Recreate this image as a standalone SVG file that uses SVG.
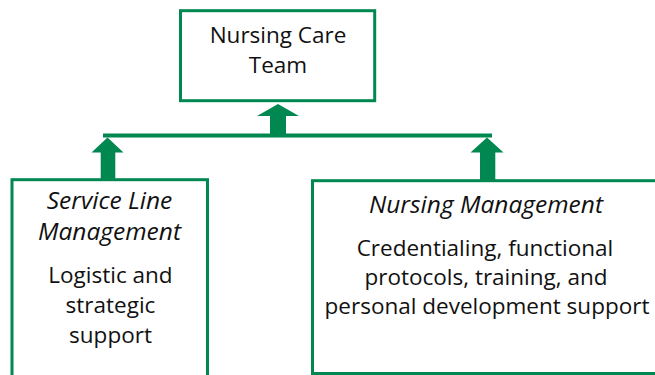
<svg xmlns="http://www.w3.org/2000/svg" width="655" height="375" viewBox="0 0 655 375">
<style>
.box{fill:#fff;stroke:#008850;stroke-width:3}
.g{fill:#008850}
.t{font-family:"Open Sans","Noto Sans",sans-serif;font-size:22.5px;fill:#111;text-anchor:middle}
.i{font-style:italic;font-size:24.5px}
</style>
<rect width="655" height="375" fill="#fff"/>
<g id="connectors">
<polygon class="g" points="278,104 299,116 286,116 286,134 270,134 270,116 257,116"/>
<rect class="g" x="103" y="133.5" width="389" height="4"/>
<polygon class="g" points="107.5,137.5 123.5,152.5 115.3,152.5 115.3,179 100.7,179 100.7,152.5 91.5,152.5"/>
<polygon class="g" points="487,137.5 503.5,152.5 495.3,152.5 495.3,180 480,180 480,152.5 470.5,152.5"/>
</g>
<g id="top">
<rect class="box" x="180.5" y="10.7" width="194.2" height="90"/>
<text class="t" x="278" y="43">Nursing Care</text>
<text class="t" x="278" y="73">Team</text>
</g>
<g id="left">
<rect class="box" x="12" y="179.7" width="195.5" height="210"/>
<text class="t i" x="109.5" y="209.3">Service Line</text>
<text class="t i" x="109.5" y="240">Management</text>
<text class="t" x="110.5" y="283.3">Logistic and</text>
<text class="t" x="110.5" y="313.3">strategic</text>
<text class="t" x="110.5" y="343.3">support</text>
</g>
<g id="right">
<rect class="box" x="312.5" y="180.7" width="360" height="192.8"/>
<text class="t i" x="486" y="212.7">Nursing Management</text>
<text class="t" x="485" y="255.5">Credentialing, functional</text>
<text class="t" x="486" y="284.5">protocols, training, and</text>
<text class="t" x="487" y="314">personal development support</text>
</g>
</svg>
